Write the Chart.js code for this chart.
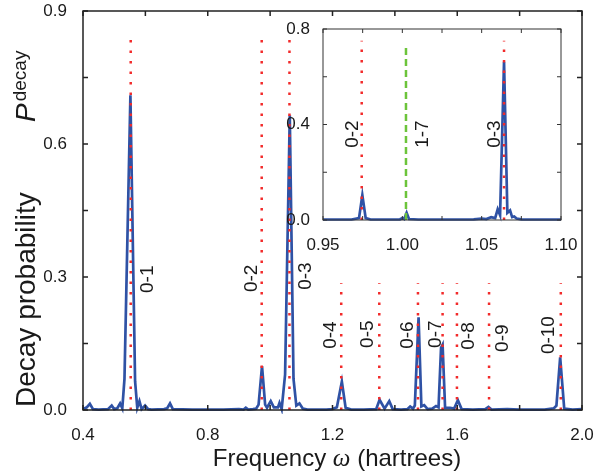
<!DOCTYPE html>
<html>
<head>
<meta charset="utf-8">
<script src="https://cdn.jsdelivr.net/npm/chart.js@4.4.0/dist/chart.umd.min.js"></script>
<style>
  html, body { margin: 0; padding: 0; background: #fff; }
  #wrap { position: relative; width: 609px; height: 476px; }
  #mainChart { position: absolute; left: 0; top: 0; }
  #insetChart { position: absolute; left: 283px; top: 10px; }
</style>
</head>
<body>
<div id="wrap">
  <canvas id="mainChart" width="609" height="476"></canvas>
  <canvas id="insetChart" width="300" height="240"></canvas>
</div>
<script>
// ---- main spectrum ----
const freq = [0.400, 0.412, 0.422, 0.432, 0.450, 0.480, 0.492, 0.500, 0.510, 0.519, 0.526,
  0.533, 0.552, 0.567, 0.574, 0.581, 0.588, 0.599, 0.609, 0.620, 0.660, 0.670, 0.679, 0.688,
  0.750, 0.850, 0.900, 0.915, 0.922, 0.930, 0.945, 0.955, 0.963, 0.974, 0.984, 0.990, 1.002,
  1.012, 1.025, 1.030, 1.037, 1.048, 1.063, 1.075, 1.084, 1.094, 1.105, 1.120, 1.180, 1.200,
  1.214, 1.230, 1.242, 1.260, 1.300, 1.340, 1.351, 1.367, 1.382, 1.393, 1.420, 1.440, 1.449,
  1.458, 1.464, 1.476, 1.485, 1.494, 1.505, 1.520, 1.532, 1.540, 1.548, 1.553, 1.561, 1.577,
  1.590, 1.602, 1.614, 1.650, 1.690, 1.700, 1.710, 1.760, 1.800, 1.880, 1.910, 1.918, 1.930,
  1.943, 1.970, 2.000];
const prob = [0.002, 0.006, 0.014, 0.002, 0.001, 0.002, 0.010, 0.002, 0.004, 0.015, 0.004,
  0.070, 0.710, 0.065, 0.005, 0.020, 0.002, 0.010, 0.002, 0.001, 0.002, 0.004, 0.015, 0.002,
  0.001, 0.001, 0.002, 0.001, 0.005, 0.001, 0.002, 0.003, 0.012, 0.099, 0.012, 0.005, 0.020,
  0.006, 0.006, 0.016, 0.002, 0.080, 0.665, 0.070, 0.010, 0.015, 0.003, 0.001, 0.001, 0.002,
  0.006, 0.064, 0.005, 0.001, 0.001, 0.002, 0.023, 0.003, 0.020, 0.002, 0.001, 0.002, 0.008,
  0.003, 0.010, 0.209, 0.008, 0.011, 0.002, 0.003, 0.009, 0.006, 0.140, 0.147, 0.005, 0.005,
  0.003, 0.022, 0.002, 0.001, 0.002, 0.007, 0.001, 0.002, 0.001, 0.001, 0.004, 0.010, 0.119,
  0.003, 0.001, 0.002];

// transitions marked with dotted lines
const transNames = ['0-1', '0-2', '0-3', '0-4', '0-5', '0-6', '0-7', '0-8', '0-9', '0-10'];
const transFreq = [0.553, 0.973, 1.062, 1.228, 1.350, 1.474, 1.553, 1.599, 1.702, 1.932];
const transTop = [0.852, 0.852, 0.852, 0.286, 0.286, 0.286, 0.286, 0.286, 0.286, 0.286];

const xTicks = [0.4, 0.6, 0.8, 1.0, 1.2, 1.4, 1.6, 1.8, 2.0];
const xTickLabels = ['0.4', '', '0.8', '', '1.2', '', '1.6', '', '2.0'];
const yTicks = [0, 0.15, 0.3, 0.45, 0.6, 0.75, 0.9];
const yTickLabels = ['0.0', '', '0.3', '', '0.6', '', '0.9'];

// ---- inset (zoom around 1.0 hartree) ----
const insetFreq = [0.950, 0.960, 0.968, 0.9727, 0.9748, 0.9769, 0.980, 0.990, 0.9985, 1.0002,
  1.0012, 1.0027, 1.0042, 1.010, 1.030, 1.045, 1.050, 1.053, 1.056, 1.0585, 1.0601, 1.0616,
  1.0641, 1.0662, 1.0679, 1.0692, 1.0705, 1.072, 1.075, 1.085, 1.100];
const insetProb = [0.002, 0.002, 0.002, 0.008, 0.104, 0.008, 0.002, 0.002, 0.003, 0.008,
  0.004, 0.030, 0.004, 0.002, 0.002, 0.003, 0.006, 0.004, 0.012, 0.008, 0.045, 0.020,
  0.663, 0.030, 0.040, 0.012, 0.015, 0.006, 0.003, 0.002, 0.002];
const insetNames = ['0-2', '1-7', '0-3'];
const insetTransFreq = [0.9744, 1.0023, 1.0641];
const insetTransTop = [0.751, 0.72, 0.751];
const insetXTicks = [0.95, 0.975, 1.0, 1.025, 1.05, 1.075, 1.10];
const insetXTickLabels = ['0.95', '', '1.00', '', '1.05', '', '1.10'];
const insetYTicks = [0, 0.2, 0.4, 0.6, 0.8];
const insetYTickLabels = ['0.0', '', '0.4', '', '0.8'];

// label placement (pixel offset of text baseline from the line, centre height in P units)
const mainLabelPlace = [
  { dx: 22, at: 0.295 }, { dx: -5, at: 0.297 }, { dx: 22, at: 0.302 },
  { dx: -5, at: 0.169 }, { dx: -6, at: 0.171 }, { dx: -5, at: 0.169 },
  { dx: -2, at: 0.171 }, { dx: 17, at: 0.167 }, { dx: 19, at: 0.162 }, { dx: -7, at: 0.169 }
];
const insetLabelPlace = [{ dx: -4, at: 0.36 }, { dx: 22, at: 0.36 }, { dx: -4, at: 0.36 }];

const SANS = '"Liberation Sans", Arial, Helvetica, sans-serif';
const TEXT = '#1a1a1a';
const BLUE = '#2f52a5';
const RED = '#f22a2a';
const GREEN = '#6cc43a';
const DOTS = [2.5, 8];

// inward ticks on all four sides + frame
function makeFrame(len, width, color) {
  return {
    id: 'frameTicks',
    afterDatasetsDraw(chart) {
      const { ctx, chartArea: a, scales: { x, y } } = chart;
      ctx.save();
      ctx.strokeStyle = color;
      ctx.lineWidth = width;
      ctx.beginPath();
      x.ticks.forEach(t => {
        const px = x.getPixelForValue(t.value);
        ctx.moveTo(px, a.bottom); ctx.lineTo(px, a.bottom - len);
        ctx.moveTo(px, a.top); ctx.lineTo(px, a.top + len);
      });
      y.ticks.forEach(t => {
        const py = y.getPixelForValue(t.value);
        ctx.moveTo(a.left, py); ctx.lineTo(a.left + len, py);
        ctx.moveTo(a.right, py); ctx.lineTo(a.right - len, py);
      });
      ctx.stroke();
      ctx.strokeRect(a.left, a.top, a.right - a.left, a.bottom - a.top);
      ctx.restore();
    }
  };
}

// rotated transition labels
function makeLabels(names, freqs, place, font) {
  return {
    id: 'peakLabels',
    afterDatasetsDraw(chart) {
      const { ctx, scales: { x, y } } = chart;
      ctx.save();
      ctx.font = font;
      ctx.fillStyle = TEXT;
      ctx.textAlign = 'center';
      ctx.textBaseline = 'alphabetic';
      names.forEach((name, i) => {
        const px = x.getPixelForValue(freqs[i]) + place[i].dx;
        const py = y.getPixelForValue(place[i].at);
        ctx.save();
        ctx.translate(px, py);
        ctx.rotate(-Math.PI / 2);
        ctx.fillText(name, 0, 0);
        ctx.restore();
      });
      ctx.restore();
    }
  };
}

// axis titles (mixed fonts, so drawn by hand)
const axisTitles = {
  id: 'axisTitles',
  afterDraw(chart) {
    const ctx = chart.ctx;
    ctx.save();
    ctx.fillStyle = TEXT;
    ctx.textAlign = 'left';
    ctx.textBaseline = 'alphabetic';
    const fA = '24px ' + SANS;
    const fW = 'italic 25px "Liberation Serif", "Times New Roman", serif';
    ctx.font = fA;
    const wA = ctx.measureText('Frequency ').width;
    const wB = ctx.measureText(' (hartrees)').width;
    ctx.font = fW;
    const wW = ctx.measureText('ω').width;
    let x0 = 337 - (wA + wW + wB) / 2;
    ctx.font = fA; ctx.fillText('Frequency ', x0, 466); x0 += wA;
    ctx.font = fW; ctx.fillText('ω', x0, 466); x0 += wW;
    ctx.font = fA; ctx.fillText(' (hartrees)', x0, 466);

    ctx.translate(35, 407);
    ctx.rotate(-Math.PI / 2);
    ctx.font = '28px ' + SANS;
    ctx.fillText('Decay probability', 0, 0);
    ctx.font = 'italic 28px ' + SANS;
    ctx.fillText('P', 285, 0);
    const wP = ctx.measureText('P').width;
    ctx.font = '19px ' + SANS;
    ctx.fillText('decay', 285 + wP + 2, -9);
    ctx.restore();
  }
};

function lineSets(freqs, tops, colors, dashes) {
  return freqs.map((f, i) => ({
    data: [{ x: f, y: 0 }, { x: f, y: tops[i] }],
    borderColor: colors[i],
    borderWidth: 2.5,
    borderDash: dashes[i],
    pointRadius: 0,
    order: 0
  }));
}

function axisOpts(min, max, ticks, labels, size, isX, pad) {
  return {
    type: 'linear',
    min: min,
    max: max,
    grid: { display: false },
    border: { display: false },
    afterBuildTicks: s => { s.ticks = ticks.map(v => ({ value: v })); },
    afterFit: s => {
      if (isX) { s.height = size; s.paddingLeft = 0; s.paddingRight = 0; }
      else { s.width = size; s.paddingTop = 0; s.paddingBottom = 0; }
    },
    ticks: {
      autoSkip: false,
      maxRotation: 0,
      minRotation: 0,
      padding: pad,
      color: TEXT,
      font: { family: SANS, size: 17 },
      callback: (v, i) => labels[i]
    }
  };
}

// main chart
new Chart(document.getElementById('mainChart'), {
  type: 'line',
  data: {
    datasets: [
      ...lineSets(transFreq, transTop, transFreq.map(() => RED), transFreq.map(() => DOTS)),
      {
        data: freq.map((f, i) => ({ x: f, y: prob[i] })),
        borderColor: BLUE,
        borderWidth: 2.7,
        pointRadius: 0,
        tension: 0,
        clip: 4,
        order: 1
      }
    ]
  },
  options: {
    responsive: false,
    devicePixelRatio: 1,
    animation: false,
    layout: { padding: { top: 11, right: 27, bottom: 0, left: 0 } },
    plugins: { legend: { display: false }, tooltip: { enabled: false } },
    scales: {
      x: axisOpts(0.4, 2.0, xTicks, xTickLabels, 66, true, 7),
      y: axisOpts(0, 0.9, yTicks, yTickLabels, 83, false, 8)
    }
  },
  plugins: [makeFrame(5, 1.5, '#222'), makeLabels(transNames, transFreq, mainLabelPlace, '19px ' + SANS), axisTitles]
});

// inset chart
new Chart(document.getElementById('insetChart'), {
  type: 'line',
  data: {
    datasets: [
      ...lineSets(insetTransFreq, insetTransTop, [RED, GREEN, RED], [DOTS, [7, 4], DOTS]),
      {
        data: insetFreq.map((f, i) => ({ x: f, y: insetProb[i] })),
        borderColor: BLUE,
        borderWidth: 2.7,
        pointRadius: 0,
        tension: 0,
        clip: 3,
        order: 1
      }
    ]
  },
  options: {
    responsive: false,
    devicePixelRatio: 1,
    animation: false,
    layout: { padding: { top: 19, right: 22, bottom: 0, left: 0 } },
    plugins: { legend: { display: false }, tooltip: { enabled: false } },
    scales: {
      x: axisOpts(0.95, 1.10, insetXTicks, insetXTickLabels, 30, true, 7),
      y: axisOpts(0, 0.8, insetYTicks, insetYTickLabels, 40, false, 5)
    }
  },
  plugins: [makeFrame(4, 1, '#333'), makeLabels(insetNames, insetTransFreq, insetLabelPlace, '19px ' + SANS)]
});
</script>
</body>
</html>
